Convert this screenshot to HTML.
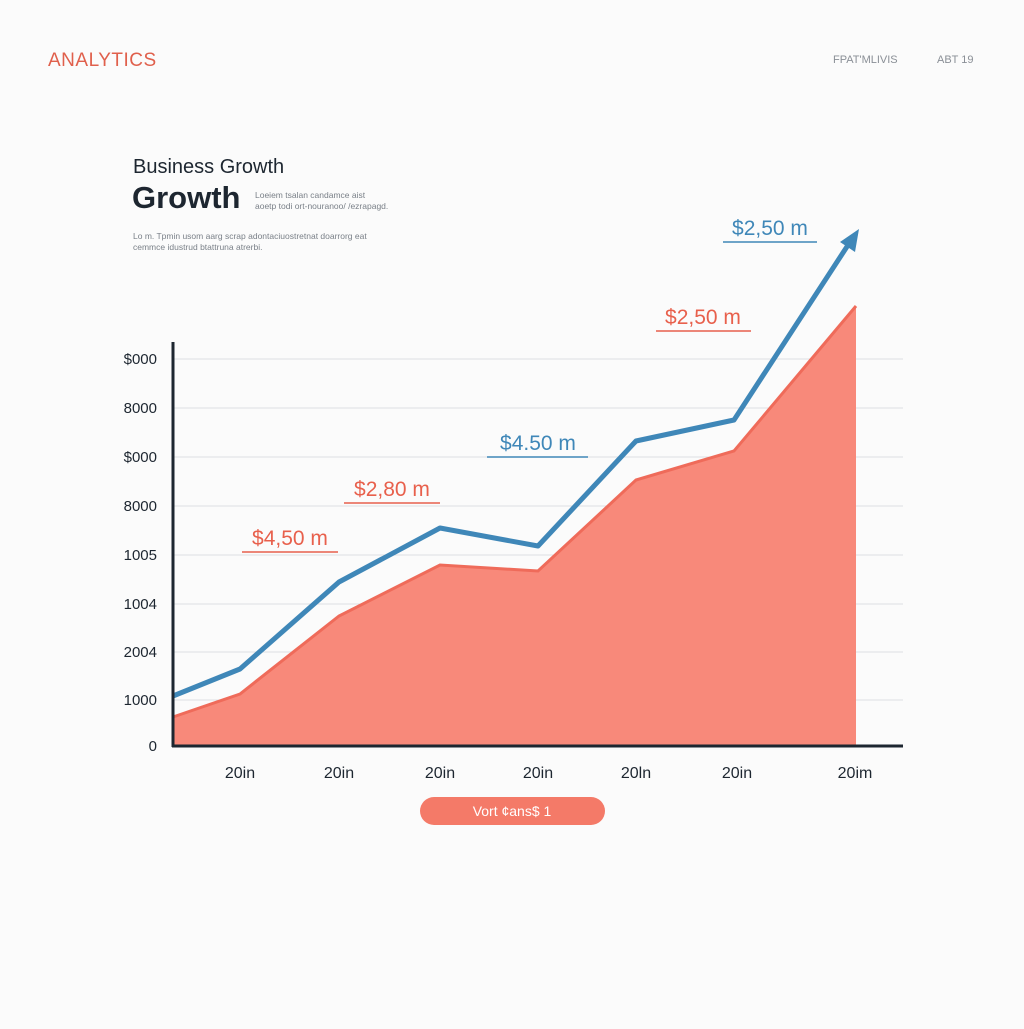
<!DOCTYPE html>
<html><head><meta charset="utf-8"><style>
body{margin:0;background:#fbfbfb;width:1024px;height:1024px;overflow:hidden;font-family:"Liberation Sans",sans-serif}
</style></head><body>
<svg width="1024" height="1024" xmlns="http://www.w3.org/2000/svg" font-family="Liberation Sans, sans-serif">
<rect width="1024" height="1024" fill="#fbfbfb"/>
<text x="48" y="66" font-size="19" fill="#e0604c" letter-spacing="0.5">ANALYTICS</text>
<text x="833" y="63" font-size="11" fill="#8a8f96">FPAT'MLIVIS</text>
<text x="937" y="63" font-size="11" fill="#8a8f96">ABT 19</text>
<text x="133" y="173" font-size="20" fill="#1d2630">Business Growth</text>
<text x="132" y="208" font-size="31" font-weight="bold" fill="#1d2630">Growth</text>
<text x="255" y="198" font-size="8.5" fill="#7a8088">Loeiem tsalan candamce aist</text>
<text x="255" y="209" font-size="8.5" fill="#7a8088">aoetp todi ort-nouranoo/ /ezrapagd.</text>
<text x="133" y="239" font-size="8.5" fill="#7a8088">Lo m. Tpmin usom aarg scrap adontaciuostretnat doarrorg eat</text>
<text x="133" y="250" font-size="8.5" fill="#7a8088">cemmce idustrud btattruna atrerbi.</text>
<g stroke="#dcdfe3" stroke-width="1">
<line x1="173" y1="359" x2="903" y2="359"/><line x1="173" y1="408" x2="903" y2="408"/>
<line x1="173" y1="457" x2="903" y2="457"/><line x1="173" y1="506" x2="903" y2="506"/>
<line x1="173" y1="555" x2="903" y2="555"/><line x1="173" y1="604" x2="903" y2="604"/>
<line x1="173" y1="652" x2="903" y2="652"/><line x1="173" y1="700" x2="903" y2="700"/>
</g>
<g font-size="15" fill="#1d2630" text-anchor="end">
<text x="157" y="364">$000</text><text x="157" y="413">8000</text><text x="157" y="462">$000</text>
<text x="157" y="511">8000</text><text x="157" y="560">1005</text><text x="157" y="609">1004</text>
<text x="157" y="657">2004</text><text x="157" y="705">1000</text><text x="157" y="751">0</text>
</g>
<polygon points="173,717 240,694 339,616 440,565 538,571 636,480 734,451 856,306 856,746 173,746" fill="#f8897a"/>
<polyline points="173,717 240,694 339,616 440,565 538,571 636,480 734,451 856,306" fill="none" stroke="#ef6b5a" stroke-width="3"/>
<polyline points="173,696 240,669 339,582 440,528 538,546 636,441 734,420 850,242" fill="none" stroke="#3f87b8" stroke-width="5" stroke-linejoin="round"/>
<polygon points="859,229 840,242 855,252" fill="#3f87b8"/>
<line x1="173" y1="342" x2="173" y2="747" stroke="#1d2630" stroke-width="3"/>
<line x1="172" y1="746" x2="903" y2="746" stroke="#1d2630" stroke-width="3"/>
<g font-size="16" fill="#1d2630" text-anchor="middle">
<text x="240" y="778">20in</text><text x="339" y="778">20in</text><text x="440" y="778">20in</text>
<text x="538" y="778">20in</text><text x="636" y="778">20ln</text><text x="737" y="778">20in</text><text x="855" y="778">20im</text>
</g>
<g font-size="21" text-anchor="middle">
<text x="770" y="235" fill="#3f87b8">$2,50 m</text><line x1="723" y1="242" x2="817" y2="242" stroke="#3f87b8" stroke-width="1.5"/>
<text x="703" y="324" fill="#e8604c">$2,50 m</text><line x1="656" y1="331" x2="751" y2="331" stroke="#e8604c" stroke-width="1.5"/>
<text x="538" y="450" fill="#3f87b8">$4.50 m</text><line x1="487" y1="457" x2="588" y2="457" stroke="#3f87b8" stroke-width="1.5"/>
<text x="392" y="496" fill="#e8604c">$2,80 m</text><line x1="344" y1="503" x2="440" y2="503" stroke="#e8604c" stroke-width="1.5"/>
<text x="290" y="545" fill="#e8604c">$4,50 m</text><line x1="242" y1="552" x2="338" y2="552" stroke="#e8604c" stroke-width="1.5"/>
</g>
<rect x="420" y="797" width="185" height="28" rx="14" fill="#f47a68"/>
<text x="512" y="816" font-size="14" fill="#fff" text-anchor="middle">Vort ¢ans$ 1</text>
</svg>
</body></html>
